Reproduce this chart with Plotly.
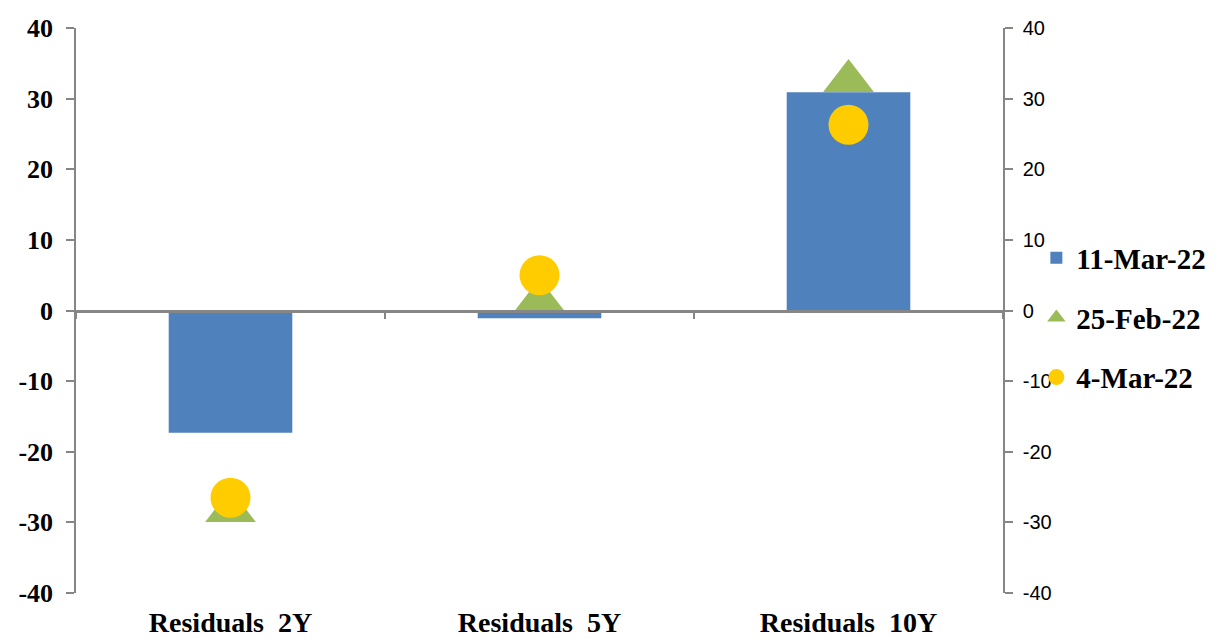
import plotly.graph_objects as go

# data
categories = ['Residuals  2Y', 'Residuals  5Y', 'Residuals  10Y']
mar11 = [-17.3, -1.1, 30.9]
feb25 = [-28.4, 1.4, 32.5]
mar4 = [-26.5, 5.0, 26.3]
series_names = ['11-Mar-22', '25-Feb-22', '4-Mar-22']
y_ticks = [-40, -30, -20, -10, 0, 10, 20, 30, 40]
y_labels = [str(v) for v in y_ticks]  # plain hyphen, like the original

SERIF = 'Liberation Serif, Times New Roman, serif'
SANS = 'Liberation Sans, Arial, sans-serif'
AXIS_GREY = '#868686'

fig = go.Figure()
fig.add_trace(go.Bar(x=categories, y=mar11, name=series_names[0], width=0.4,
                     marker=dict(color='#4F81BD', line=dict(width=0)),
                     legendgroup='a', xaxis='x', yaxis='y'))
fig.add_trace(go.Scatter(x=categories, y=feb25, name=series_names[1], mode='markers',
                         marker=dict(symbol='triangle-up', size=44, color='#9BBB59'),
                         legendgroup='b', xaxis='x2', yaxis='y2'))
fig.add_trace(go.Scatter(x=categories, y=mar4, name=series_names[2], mode='markers',
                         marker=dict(symbol='circle', size=40, color='#FFCC00'),
                         legendgroup='c', xaxis='x2', yaxis='y2'))

yrange = [y_ticks[0], y_ticks[-1]]
# the page body has an 8px margin, so the figure is sized to fill the window
fig.update_layout(
    width=1215, height=631,
    margin=dict(l=68, r=216, t=20, b=46),
    plot_bgcolor='white', paper_bgcolor='white',
    showlegend=True,
    legend=dict(x=1.036, y=0.487, xanchor='left', yanchor='middle',
                font=dict(family=SERIF, size=29, color='black', weight='bold'),
                itemwidth=30, tracegroupgap=19, traceorder='grouped',
                bgcolor='rgba(0,0,0,0)'),
    xaxis=dict(type='category', categoryarray=categories, range=[-0.5, 2.5],
               showline=False, ticks='', showgrid=False, zeroline=False, automargin=False,
               tickfont=dict(family=SERIF, size=28, color='black', weight='bold'),
               ticklabelstandoff=10),
    xaxis2=dict(type='category', categoryarray=categories, range=[-0.5, 2.5],
                overlaying='x', anchor='free', position=0.5, automargin=False,
                showline=True, linecolor=AXIS_GREY, linewidth=2.5,
                ticks='outside', tickson='boundaries', ticklen=7, tickwidth=2, tickcolor=AXIS_GREY,
                showticklabels=False, showgrid=False, zeroline=False),
    yaxis=dict(range=yrange, tickvals=y_ticks, ticktext=y_labels,
               showgrid=False, zeroline=False, automargin=False,
               showline=True, linecolor=AXIS_GREY, linewidth=1.5,
               ticks='outside', ticklen=8, tickcolor=AXIS_GREY, tickwidth=1.5,
               tickfont=dict(family=SERIF, size=26, color='black', weight='bold'),
               ticklabelstandoff=8),
    yaxis2=dict(range=yrange, tickvals=y_ticks, ticktext=y_labels,
                overlaying='y', side='right', anchor='x', automargin=False,
                showgrid=False, zeroline=False,
                showline=True, linecolor=AXIS_GREY, linewidth=1.5,
                ticks='outside', ticklen=8, tickcolor=AXIS_GREY, tickwidth=1.5,
                tickfont=dict(family=SANS, size=20, color='black'),
                ticklabelstandoff=6),
)

fig.write_html('out.html')
